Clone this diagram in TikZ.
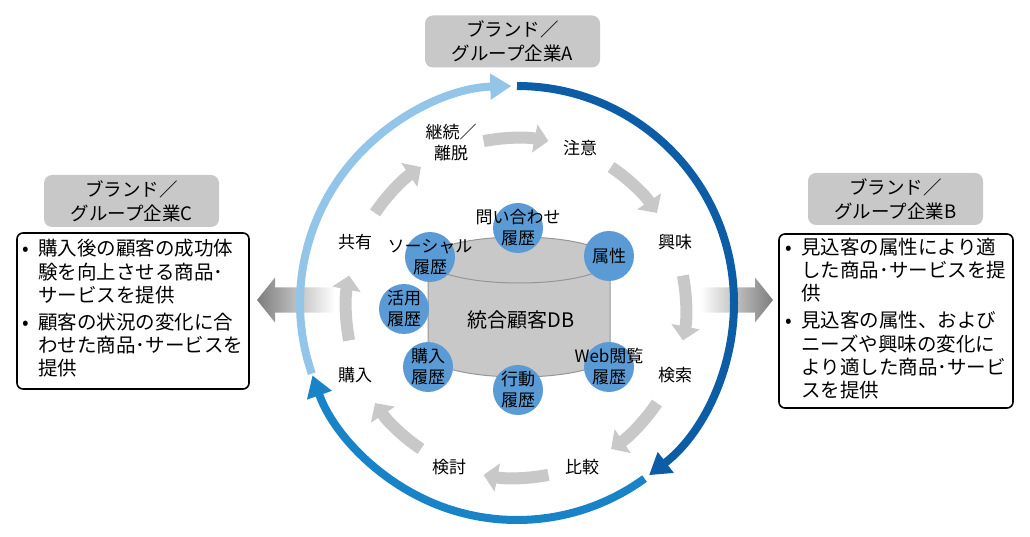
\documentclass[tikz,border=0pt]{standalone}
\usepackage{fontspec}
\setmainfont{Noto Sans CJK JP}
\usepackage{xcolor}
\usetikzlibrary{arrows.meta,positioning,calc}
\definecolor{cyclelight}{RGB}{146,197,232}
\definecolor{cycledark}{RGB}{13,93,166}
\definecolor{cyclemid}{RGB}{24,132,199}
\definecolor{histblue}{RGB}{91,155,213}
\definecolor{stepgray}{RGB}{200,200,200}
\definecolor{dbline}{RGB}{150,150,150}
\definecolor{flowgray}{RGB}{125,125,125}

\begin{document}
\begin{tikzpicture}[x=1pt, y=1pt,
    brand/.style={rectangle, fill=stepgray, rounded corners=8pt, minimum width=175pt, minimum height=52pt, align=center, inner sep=0pt, font=\fontsize{18.5}{24}\selectfont},
    offer/.style={rectangle, draw, line width=1.6pt, rounded corners=6pt, fill=white, inner sep=0pt, font=\fontsize{19.5}{22.5}\selectfont},
    hist/.style={circle, fill=histblue, minimum size=50pt, inner sep=0pt},
    stage/.style={align=center, inner sep=0pt, font=\fontsize{17}{21}\selectfont},
    cycle/.style={line width=8pt, -{Triangle[length=21pt,width=25pt]}},
    flow/.style={line width=12pt, stepgray, -{Triangle[length=14pt,width=28pt]}}]

    \useasboundingbox (0,0) rectangle (1030,536);

    % arrows out to the companies
    \shade[left color=flowgray, right color=white] (257,236) -- (275,258.5) -- (275,248.5) -- (335,248.5) -- (335,223.5) -- (275,223.5) -- (275,213.5) -- cycle;
    \shade[left color=white, right color=flowgray] (773,236) -- (755,258.5) -- (755,248.5) -- (700,248.5) -- (700,223.5) -- (755,223.5) -- (755,213.5) -- cycle;

    % outer cycle
    \coordinate (hub) at (517,233);
    \draw[cycle, cyclelight] ([shift={(199:217pt)}]hub) arc[start angle=199, end angle=91.5, radius=217pt];
    \draw[cycle, cycledark] ([shift={(90:217pt)}]hub) arc[start angle=90, end angle=-52.5, radius=217pt];
    \draw[cycle, cyclemid] ([shift={(-54:217pt)}]hub) arc[start angle=-54, end angle=-160.5, radius=217pt];

    % inner cycle
    \coordinate (ring) at (516,228);
    \foreach \a in {90,45,...,-225}
        \draw[flow] ([shift={(\a+11:170pt)}]ring) arc[start angle=\a+11, end angle=\a-11, radius=170pt];

    \node[stage] (attention) at (580,388) {注意};
    \node[stage] (interest) at (675,294) {興味};
    \node[stage] (search) at (675,161) {検索};
    \node[stage] (compare) at (582,69) {比較};
    \node[stage] (consider) at (449,69) {検討};
    \node[stage] (purchase) at (355,161) {購入};
    \node[stage] (share) at (355,294) {共有};
    \node[stage] (retain) at (451,393) {継続／\\離脱};

    % database
    \coordinate (dbtop) at (519,276);
    \coordinate (dbbot) at (519,182);
    \draw[dbline, fill=stepgray, line width=1pt] ([xshift=-91pt]dbtop) -- ([xshift=-91pt]dbbot)
        arc[start angle=180, end angle=360, x radius=91pt, y radius=23pt] -- ([xshift=91pt]dbtop) -- cycle;
    \draw[dbline, fill=stepgray, line width=1pt] (dbtop) ellipse[x radius=91pt, y radius=23pt];
    \node[font=\fontsize{20}{24}\selectfont] (db) at (521,216) {統合顧客DB};

    \node[hist, label={[stage]center:問い合わせ\\履歴}] (inquiry) at (518,308) {};
    \node[hist, label={[stage]center:属性}] (profile) at (609,280) {};
    \node[hist, label={[stage]center:Web閲覧\\履歴}] (web) at (609,169) {};
    \node[hist, label={[stage]center:行動\\履歴}] (action) at (518,146) {};
    \node[hist, label={[stage]center:購入\\履歴}] (buy) at (428,169) {};
    \node[hist, label={[stage]center:活用\\履歴}] (usage) at (404,227) {};
    \node[hist, label={[stage]center:ソーシャル\\履歴}] (social) at (430,279) {};

    % companies
    \node[brand] (brandA) at (512.5,494.5) {ブランド／\\グループ企業A};
    \node[brand] (brandB) at (895.5,337) {ブランド／\\グループ企業B};
    \node[brand] (brandC) at (131.5,335) {ブランド／\\グループ企業C};

    \node[offer, minimum width=234pt, minimum height=174pt] (offerB) at (896,215) {%
        \begin{tabular}{@{}l@{\hspace{9pt}}l@{}}
        • & 見込客の属性により適\\
          & した商品･サービスを提\\
          & 供\\[4pt]
        • & 見込客の属性、および\\
          & ニーズや興味の変化に\\
          & より適した商品･サービ\\
          & スを提供
        \end{tabular}};
    \node[offer, minimum width=232pt, minimum height=156pt] (offerC) at (133,225) {%
        \begin{tabular}{@{}l@{\hspace{9pt}}l@{}}
        • & 購入後の顧客の成功体\\
          & 験を向上させる商品･\\
          & サービスを提供\\[4pt]
        • & 顧客の状況の変化に合\\
          & わせた商品･サービスを\\
          & 提供
        \end{tabular}};
\end{tikzpicture}
\end{document}
